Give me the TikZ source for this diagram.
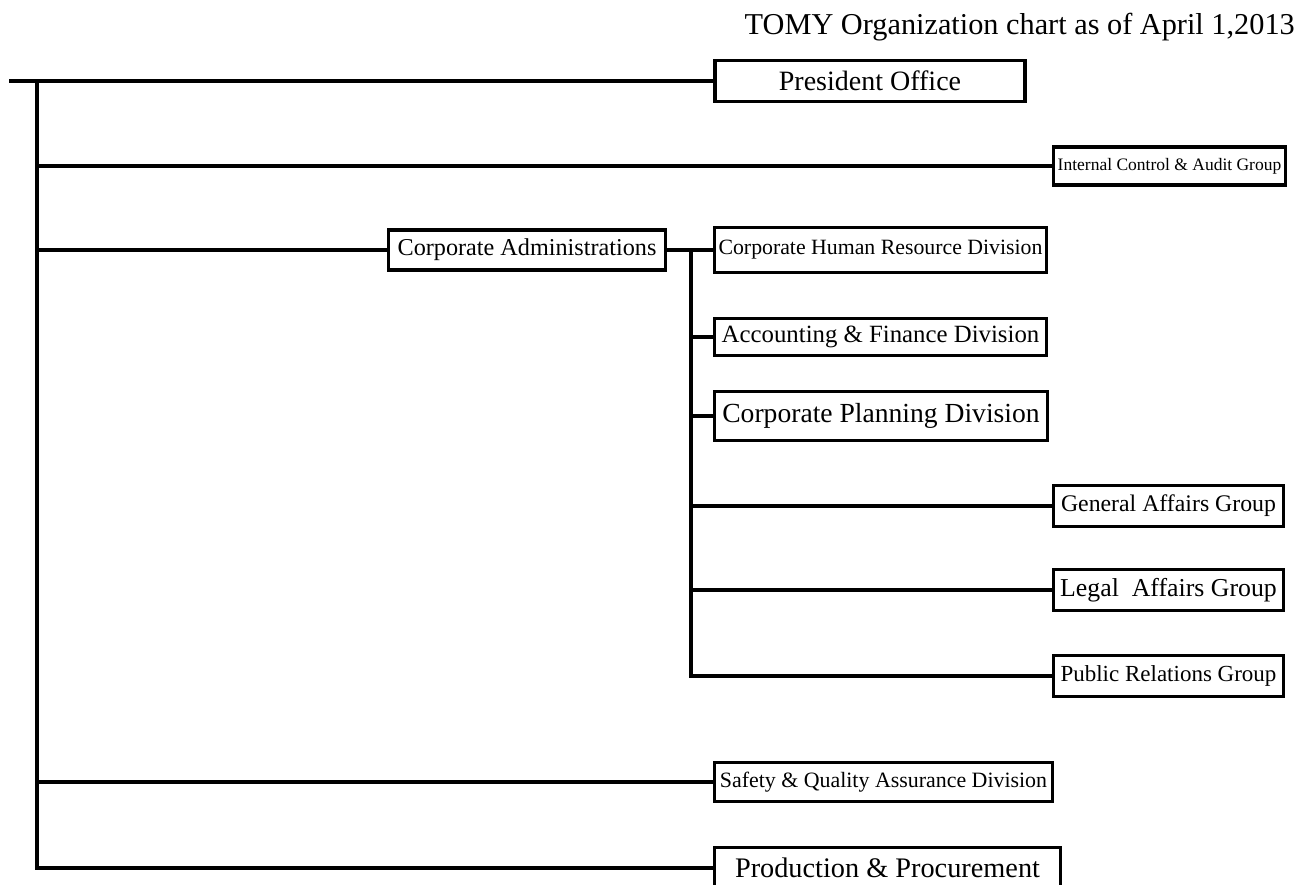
\documentclass[tikz,border=0pt]{standalone}
\usepackage{fontspec}
\setmainfont{Liberation Serif}
\usepackage{tikz}
\usetikzlibrary{positioning, calc}
\newcommand{\fsz}[1]{\fontsize{#1}{#1}\selectfont}
\tikzset{
	unit/.style = {draw, line width=3.6pt, rectangle, inner sep=0pt, align=center},
	link/.style = {line width=3.3pt}
}

\begin{document}
\begin{tikzpicture}[x=1pt, y=-1pt]
		\useasboundingbox (0,0) rectangle (1301,884);
		\node[anchor=base east, inner sep=0pt, font=\fsz{30.3}] (title) at (1295,34) {TOMY Organization chart as of April 1,2013};
		\node[unit, minimum width=310pt, minimum height=41pt, font=\fsz{28}] (pres) at (870,81) {President Office};
		\node[unit, minimum width=232pt, minimum height=38pt, font=\fsz{17.5}] (audit) at (1169.5,166) {Internal Control \& Audit Group};
		\node[unit, minimum width=277pt, minimum height=40pt, font=\fsz{24.2}] (admin) at (527,250) {Corporate Administrations};
		\node[unit, minimum width=332pt, minimum height=45pt, font=\fsz{21.8}] (hr) at (880.5,250) {Corporate Human Resource Division};
		\node[unit, minimum width=332pt, minimum height=37pt, font=\fsz{24.8}] (acct) at (880.5,337) {Accounting \& Finance Division};
		\node[unit, minimum width=333pt, minimum height=49pt, font=\fsz{27.6}] (plan) at (881,416) {Corporate Planning Division};
		\node[unit, minimum width=230pt, minimum height=41pt, font=\fsz{23.8}] (general) at (1168.5,506) {General Affairs Group};
		\node[unit, minimum width=230pt, minimum height=41pt, font=\fsz{25.8}] (legal) at (1168.5,590) {Legal\ \ Affairs Group};
		\node[unit, minimum width=230pt, minimum height=41pt, font=\fsz{23}] (pr) at (1168.5,676) {Public Relations Group};
		\node[unit, minimum width=338pt, minimum height=39pt, font=\fsz{21.9}] (safety) at (883.5,782) {Safety \& Quality Assurance Division};
		\node[unit, minimum width=346pt, minimum height=41pt, font=\fsz{28.3}] (prod) at (887.5,868) {Production \& Procurement};
		\coordinate (start) at (9,81);
		\coordinate (trunk) at (37,81);
		\coordinate (branch) at (691,250);
		\draw[link] (start) -- (pres.west);
		\draw[link] (trunk) -- (trunk |- prod.west) -- (prod.west);
		\draw[link] (trunk |- audit.west) -- (audit.west);
		\draw[link] (trunk |- admin.west) -- (admin.west);
		\draw[link] (trunk |- safety.west) -- (safety.west);
		\draw[link] (admin.east) -- (hr.west);
		\draw[link] (branch) -- (branch |- pr.west) -- (pr.west);
		\draw[link] (branch |- acct.west) -- (acct.west);
		\draw[link] (branch |- plan.west) -- (plan.west);
		\draw[link] (branch |- general.west) -- (general.west);
		\draw[link] (branch |- legal.west) -- (legal.west);
	\end{tikzpicture}
\end{document}
